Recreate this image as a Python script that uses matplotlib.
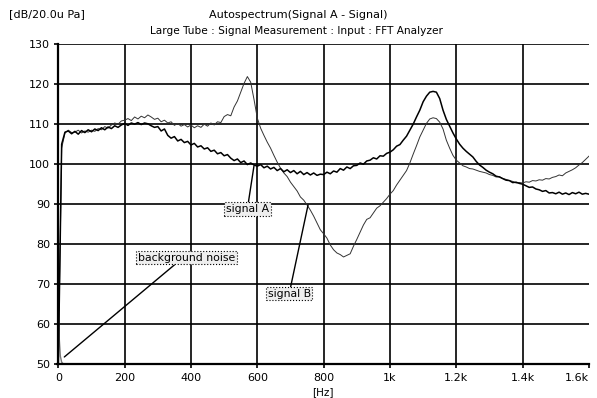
import numpy as np
import matplotlib
matplotlib.use("Agg")
import matplotlib.pyplot as plt

# frequencies every 10 Hz, 0 .. 1600
freq = np.arange(0, 1601, 10)

signal_a = [
    50, 105, 108, 108.3, 107.6, 108.2, 107.5, 108.4, 107.9, 108.6,
    108.1, 108.8, 108.4, 109.1, 108.6, 109.3, 108.9, 109.6, 109.2, 109.8,
    110.2, 109.7, 110.3, 110.0, 110.4, 109.9, 110.3, 110.1, 109.6, 109.2,
    109.4, 108.3, 108.8, 107.2, 106.5, 106.9, 105.8, 106.2, 105.4, 105.7,
    104.8, 105.2, 104.3, 104.6, 103.8, 104.1, 103.2, 103.5, 102.6, 102.9,
    102.1, 102.4, 101.5, 100.9, 101.3, 100.4, 100.8, 99.9, 100.3, 99.8,
    99.5, 99.9, 99.1, 99.5, 98.8, 99.2, 98.4, 98.9, 98.1, 98.6,
    97.9, 98.4, 97.6, 98.2, 97.4, 97.9, 97.3, 97.8, 97.2, 97.5,
    97.4, 98.0, 97.6, 98.3, 98.0, 98.9, 98.5, 99.3, 98.9, 99.6,
    99.7, 100.3, 100.0, 100.8, 101.0, 101.6, 101.3, 102.1, 102.0, 102.7,
    103.0, 103.6, 104.5, 104.9, 106.0, 107.0, 108.5, 110.0, 111.8, 113.5,
    115.6, 117.0, 118.0, 118.2, 118.0, 116.4, 113.5, 111.2, 109.5, 107.8,
    106.3, 105.0, 104.0, 103.2, 102.5, 101.8, 100.7, 99.8, 99.2, 98.5,
    98.0, 97.6, 97.0, 96.8, 96.4, 96.0, 95.9, 95.4, 95.5, 95.2,
    95.0, 94.6, 94.2, 94.3, 93.8, 93.6, 93.2, 93.4, 92.8, 92.9,
    92.6, 93.0, 92.5, 92.8, 92.4, 92.9, 92.6, 93.0, 92.5, 92.7, 92.5,
]

signal_b = [
    50, 104, 107.8, 108.5, 107.9, 108.0, 108.5, 107.8, 108.3, 108.0,
    108.5, 108.2, 108.9, 108.6, 109.4, 109.0, 109.8, 110.3, 110.0, 110.8,
    111.0, 111.4, 110.9, 111.8, 111.3, 112.0, 111.6, 112.3, 111.8, 111.2,
    111.5, 110.6, 111.0, 110.3, 110.6, 109.7, 110.2, 109.5, 109.9, 109.3,
    109.8, 109.1, 109.6, 109.2, 110.0, 109.5, 110.3, 109.8, 110.6, 110.4,
    111.9, 112.4, 112.1, 114.3, 115.8, 118.0, 120.2, 121.9, 120.5, 116.2,
    111.5, 109.0, 107.2, 105.5, 104.0, 102.2, 100.5, 99.0, 97.8, 96.9,
    95.5, 94.4, 93.3, 91.8, 91.0, 89.8, 88.5, 87.0, 85.3, 83.6,
    82.6, 81.5, 79.8, 78.6, 77.8, 77.4, 76.8, 77.2, 77.6, 79.5,
    81.2, 83.0, 84.8, 86.2, 86.6, 87.8, 89.0, 89.6, 90.5, 91.4,
    92.5, 93.4, 94.8, 96.0, 97.2, 98.4, 100.3, 102.5, 104.6, 106.8,
    108.5, 110.2, 111.3, 111.6, 111.4, 110.5, 108.8, 106.0, 104.0, 102.2,
    101.0, 100.3, 99.6, 99.3, 98.9, 98.8, 98.5, 98.2, 98.0, 97.8,
    97.4, 97.2, 96.8, 96.9, 96.4, 96.2, 95.9, 95.7, 95.3, 95.4,
    95.3, 95.6, 95.5, 95.9, 95.8, 96.1, 96.0, 96.4, 96.3, 96.7,
    96.9, 97.3, 97.1, 97.8, 98.2, 98.6, 99.1, 99.8, 100.4, 101.2, 102.0,
]

noise_freq = [0, 3, 6, 10, 20, 60, 200, 600, 1000, 1600]
noise_db = [63, 56, 52, 50.5, 49.6, 49.4, 49.3, 49.2, 49.3, 49.2]

xticks = [0, 200, 400, 600, 800, 1000, 1200, 1400, 1600]
xlabels = ["0", "200", "400", "600", "800", "1k", "1.2k", "1.4k", "1.6k"]
yticks = [50, 60, 70, 80, 90, 100, 110, 120, 130]

fig = plt.figure(figsize=(5.97, 3.98), dpi=100)
ax = fig.add_axes([0.0955, 0.085, 0.891, 0.804])

ax.plot(noise_freq, noise_db, color="#777777", lw=1.0)
ax.plot(freq, signal_b, color="#333333", lw=0.7)
ax.plot(freq, signal_a, color="black", lw=1.1)

ax.set_xlim(-4, 1600)
ax.set_ylim(50, 130)
ax.set_xticks(xticks)
ax.set_xticklabels(xlabels)
ax.set_yticks(yticks)
ax.tick_params(labelsize=8, length=3, width=1.2, pad=3)
ax.get_xticklabels()[-1].set_horizontalalignment("right")

ax.grid(True, color="black", lw=1.2)
ax.xaxis.get_gridlines()[0].set_visible(False)
ax.xaxis.get_gridlines()[-1].set_visible(False)
ax.yaxis.get_gridlines()[0].set_visible(False)
ax.yaxis.get_gridlines()[-1].set_visible(False)
ax.set_axisbelow(True)

for s in ["top", "right"]:
    ax.spines[s].set_visible(False)
for s in ["left", "bottom"]:
    ax.spines[s].set_linewidth(1.6)
ax.spines["left"].set_position(("data", 0))

fig.text(0.015, 0.965, "[dB/20.0u Pa]", fontsize=8, va="center")
fig.text(0.5, 0.962, "Autospectrum(Signal A - Signal)", fontsize=8, ha="center", va="center")
fig.text(0.497, 0.922, "Large Tube : Signal Measurement : Input : FFT Analyzer",
         fontsize=7.6, ha="center", va="center")
fig.text(0.541, 0.015, "[Hz]", fontsize=7.5, ha="center", va="center")

box = dict(boxstyle="square,pad=0.15", fc="#eeeeee", ec="black", ls=":", lw=0.8)
line = dict(arrowstyle="-", color="black", lw=1.0, shrinkA=0, shrinkB=0)
ax.annotate("signal A", xy=(590, 99.6), xytext=(570, 88.8), fontsize=7.8,
            ha="center", va="center", bbox=box, arrowprops=line)
ax.annotate("signal B", xy=(753, 89.8), xytext=(696, 67.6), fontsize=7.8,
            ha="center", va="center", bbox=box, arrowprops=line)
ax.annotate("background noise", xy=(18, 51.8), xytext=(387, 76.6), fontsize=7.8,
            ha="center", va="center", bbox=box,
            arrowprops=dict(line, relpos=(0.4, 0.0)))

fig.savefig("out.png", dpi=100)
